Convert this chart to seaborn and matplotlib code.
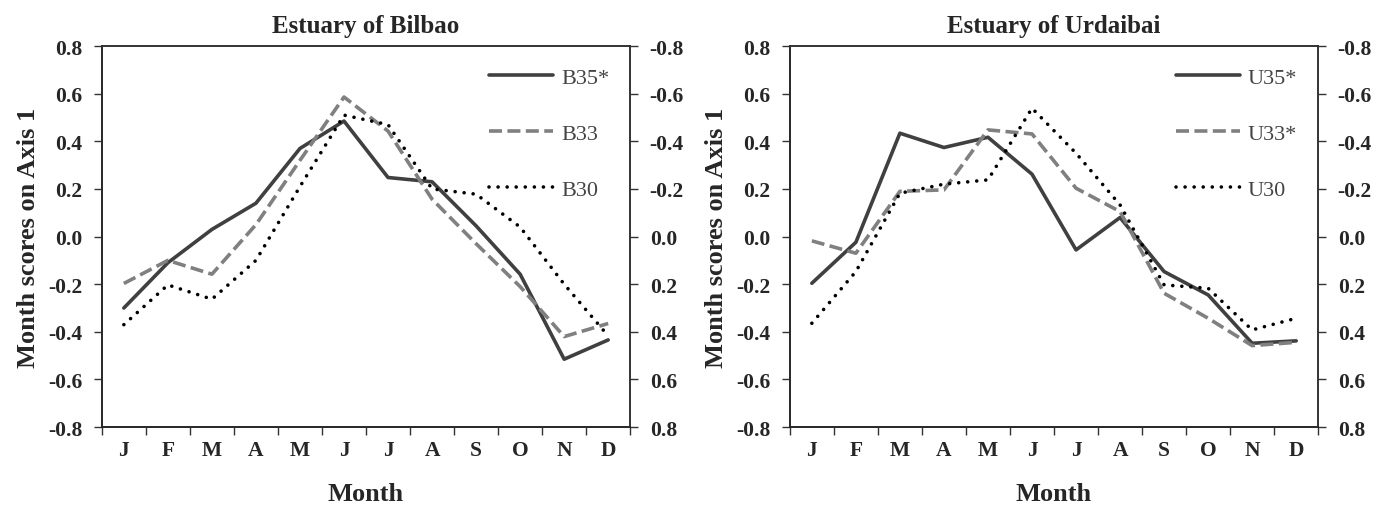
import numpy as np
import pandas as pd
import matplotlib
matplotlib.use("Agg")
import matplotlib.pyplot as plt
from matplotlib.ticker import FixedLocator, FuncFormatter
import seaborn as sns

months = ["J", "F", "M", "A", "M", "J", "J", "A", "S", "O", "N", "D"]

# Estuary of Bilbao
b35 = [-0.30, -0.11, 0.03, 0.14, 0.37, 0.485, 0.248, 0.23, 0.045, -0.158, -0.515, -0.434]
b33 = [-0.197, -0.10, -0.158, 0.05, 0.32, 0.586, 0.443, 0.157, -0.03, -0.21, -0.42, -0.365]
b30 = [-0.37, -0.203, -0.263, -0.10, 0.21, 0.51, 0.47, 0.20, 0.178, 0.04, -0.20, -0.417]

# Estuary of Urdaibai
u35 = [-0.196, -0.024, 0.434, 0.374, 0.417, 0.262, -0.056, 0.08, -0.147, -0.245, -0.448, -0.438]
u33 = [-0.018, -0.07, 0.19, 0.196, 0.448, 0.431, 0.203, 0.105, -0.238, -0.343, -0.458, -0.444]
u30 = [-0.364, -0.147, 0.182, 0.22, 0.238, 0.539, 0.35, 0.133, -0.203, -0.217, -0.392, -0.343]

panels = [
    ("Estuary of Bilbao", [("B35*", b35), ("B33", b33), ("B30", b30)]),
    ("Estuary of Urdaibai", [("U35*", u35), ("U33*", u33), ("U30", u30)]),
]

sns.set_theme(style="white")
plt.rcParams['font.family'] = ['Liberation Serif', 'DejaVu Serif']

styles = [
    dict(color="#404040", linestyle="-"),
    dict(color="#808080", linestyle=(0, (3.6, 1.5))),
    dict(color="#000000", linestyle=(0, (0.01, 2.5)), dash_capstyle="round"),
]
axcol = "#333333"
fmt = FuncFormatter(lambda v, p: f"{round(v, 1) + 0.0:.1f}")

fig = plt.figure(figsize=(13.76, 5.06), dpi=100)
lefts = [0.074, 0.574]
x = np.arange(len(months))

for (title, series), left in zip(panels, lefts):
    ax = fig.add_axes([left, 0.154, 0.384, 0.753])
    for (name, vals), st in zip(series, styles):
        df = pd.DataFrame({"pos": x, "score": vals})
        sns.lineplot(data=df, x="pos", y="score", ax=ax, label=name,
                     linewidth=2.6, **st)
    ax.set_xlim(-0.5, 11.5)
    ax.set_ylim(-0.8, 0.8)
    ax.set_yticks(np.arange(-0.8, 0.81, 0.2))
    ax.yaxis.set_major_formatter(fmt)
    ax.set_xticks(x)
    ax.set_xticklabels(months)
    ax.xaxis.set_minor_locator(FixedLocator(np.arange(-0.5, 12, 1)))
    ax.tick_params(axis="x", which="major", length=0, pad=9, labelsize=15.5)
    ax.tick_params(axis="x", which="minor", length=6, width=1, color=axcol, direction="out", bottom=True)
    ax.tick_params(axis="y", length=6, width=1, color=axcol, direction="out", left=True, labelsize=15.5, pad=8)
    for lab in ax.get_xticklabels() + ax.get_yticklabels():
        lab.set_fontweight("bold")
    ax.set_xlabel("Month", fontsize=19, fontweight="bold", labelpad=16)
    ax.set_ylabel("Month scores on Axis 1", fontsize=19, fontweight="bold", labelpad=6)
    ax.set_title(title, fontsize=18, fontweight="bold", pad=10)
    for s in ["left", "bottom", "right", "top"]:
        ax.spines[s].set_color(axcol)
        ax.spines[s].set_linewidth(1.2)

    ax2 = ax.twinx()
    ax2.set_ylim(0.8, -0.8)
    ax2.set_yticks(np.arange(-0.8, 0.81, 0.2))
    ax2.yaxis.set_major_formatter(fmt)
    ax2.tick_params(axis="y", length=6, width=1, color=axcol, direction="out", right=True, labelsize=15.5, pad=8)
    for lab in ax2.get_yticklabels():
        lab.set_fontweight("bold")
    for s in ["right", "top"]:
        ax2.spines[s].set_color(axcol)
        ax2.spines[s].set_linewidth(1.2)
    ax2.grid(False)

    leg = ax.legend(loc="upper right", frameon=False, handlelength=2.9, handletextpad=0.35,
                    labelspacing=1.6, fontsize=16, borderaxespad=0.3, bbox_to_anchor=(0.99, 0.985))
    for t in leg.get_texts():
        t.set_color("#444444")

fig.savefig("out.png", dpi=100)
